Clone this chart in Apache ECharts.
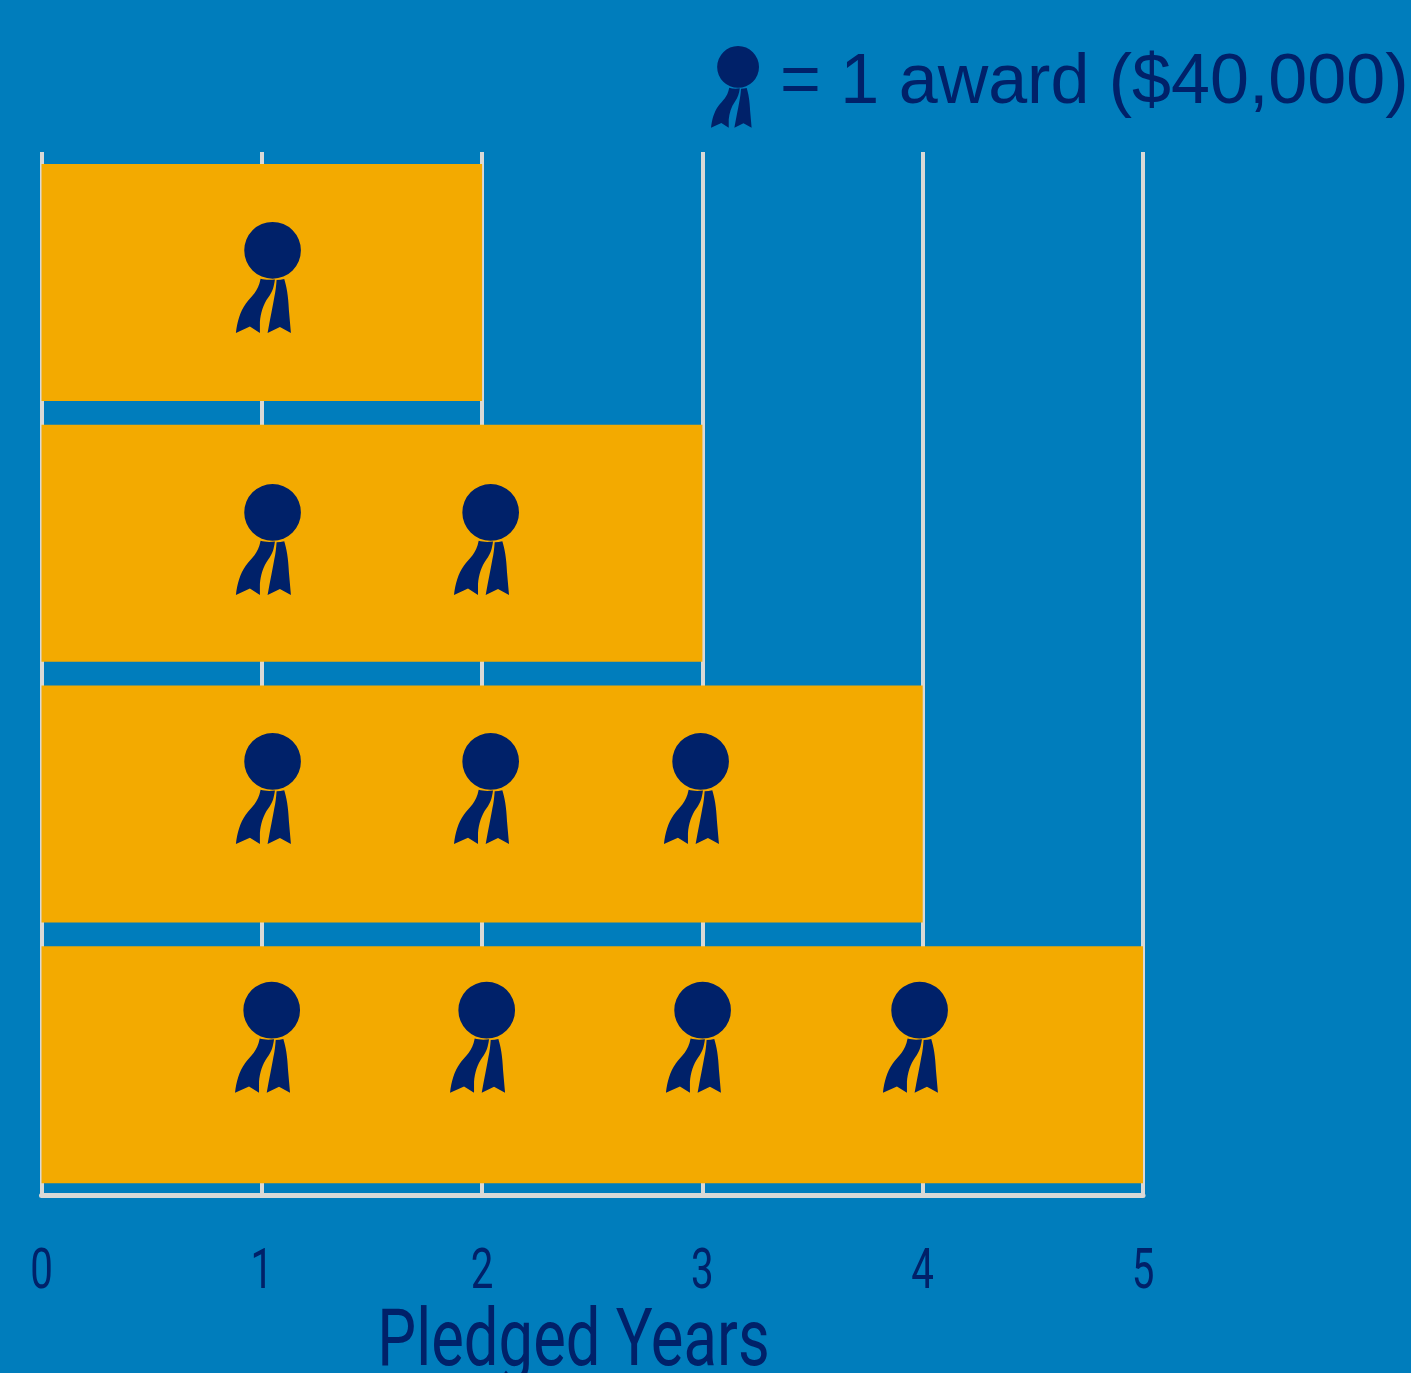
<!DOCTYPE html>
<html><head><meta charset="utf-8">
<style>html,body{margin:0;padding:0;background:#007dbc}#c{width:1411px;height:1373px}</style>
<script src="https://cdn.jsdelivr.net/npm/echarts@6/dist/echarts.min.js"></script>
</head><body><div id="c"></div>
<script>
const categories = ['2 years', '3 years', '4 years', '5 years'];
const pledgedYears = [2, 3, 4, 5];
const tickLabels = [0, 1, 2, 3, 4, 5];
const awardX = [
  [1.03],
  [1.03, 2.02],
  [1.03, 2.02, 2.973],
  [1.026, 2.002, 2.982, 3.967]
];
const awardRow = [0.481, 1.486, 2.441, 3.395];
const legendText = '= 1 award ($40,000)';
const axisTitle = 'Pledged Years';

const NAVY = '#002169', GOLD = '#f3aa00', BG = '#007dbc', LINE = '#d9d9d6';
const AWARD = 'path://M73 121A85 85 0 1 0 243 121A85 85 0 1 0 73 121Z' +
  'M122 206C135 210 152 210 165 208C162 230 158 245 145 262C130 282 122 310 120 335L120 368L90 349L48 368C52 335 60 305 78 280C95 258 115 245 122 206Z' +
  'M170 210C178 210 186 209 193 207C200 230 205 255 207 300L213 368L180 350L143 368C150 330 158 290 163 262C167 245 169 225 170 210Z';

const awardPoints = [];
awardX.forEach((row, i) => row.forEach(x => awardPoints.push([x, awardRow[i]])));

const chart = echarts.init(document.getElementById('c'));
chart.setOption({
  animation: false,
  backgroundColor: BG,
  textStyle: { fontFamily: 'Liberation Sans' },
  legend: {
    left: 711, top: 46, padding: 0, itemGap: 0, itemWidth: 48, itemHeight: 83,
    data: [{ name: legendText, icon: AWARD }],
    selectedMode: false,
    formatter: name => '{t|' + name + '}',
    textStyle: {
      color: NAVY, fontSize: 70, fontFamily: 'Liberation Sans',
      rich: { t: { color: NAVY, fontSize: 70, fontFamily: 'Liberation Sans', padding: [0, 0, 7, 16] } }
    }
  },
  grid: { left: 41.5, top: 152, width: 1101.5, height: 1043 },
  xAxis: {
    type: 'value', min: 0, max: 5, interval: 1, position: 'bottom',
    axisLine: { show: true, onZero: false, lineStyle: { color: LINE, width: 5 } },
    axisTick: { show: false }, axisLabel: { show: false },
    splitLine: { show: true, lineStyle: { color: LINE, width: 4 } }
  },
  yAxis: [
    { type: 'category', inverse: true, data: categories, show: false },
    { type: 'value', inverse: true, min: 0, max: 4, show: false }
  ],
  graphic: [{
    type: 'text', x: 573.5, y: 1385, scaleX: 0.77, z: 10,
    style: { text: axisTitle, fill: NAVY, font: '80px Roboto', textAlign: 'center', textVerticalAlign: 'bottom' }
  }],
  series: [
    {
      type: 'bar', data: pledgedYears, barWidth: 237, yAxisIndex: 0,
      itemStyle: { color: GOLD }, silent: true, z: 3
    },
    {
      name: legendText, type: 'scatter', yAxisIndex: 1, data: awardPoints,
      symbol: AWARD, symbolSize: [65, 111], symbolKeepAspect: false,
      itemStyle: { color: NAVY, opacity: 1 }, silent: true, z: 4
    },
    {
      type: 'custom', yAxisIndex: 1, data: tickLabels.map(t => [t, 4]), silent: true, z: 5,
      clip: false,
      renderItem: (p, api) => {
        const c = api.coord([api.value(0), 4]);
        return {
          type: 'text', x: c[0], y: c[1] + 79, scaleX: 0.72,
          style: { text: String(api.value(0)), fill: NAVY, font: '56px Roboto', textAlign: 'center', textVerticalAlign: 'middle' }
        };
      }
    }
  ]
});
</script></body></html>
